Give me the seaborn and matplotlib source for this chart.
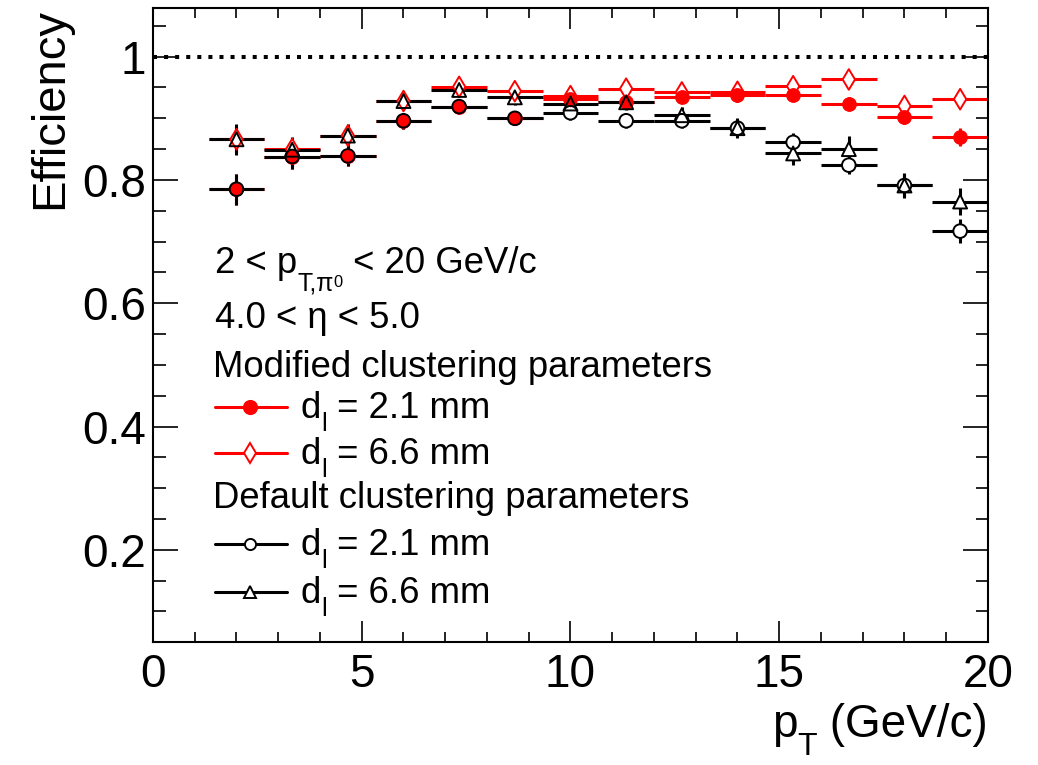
import numpy as np
import pandas as pd
import matplotlib
matplotlib.use("Agg")
import matplotlib.pyplot as plt
import seaborn as sns
from matplotlib.ticker import MultipleLocator, FixedLocator
from matplotlib.lines import Line2D

# ---- data: pT bins (GeV/c) and reconstruction efficiencies ----
pt_centers = [2.0, 3.333, 4.667, 6.0, 7.333, 8.667, 10.0, 11.333,
              12.667, 14.0, 15.333, 16.667, 18.0, 19.333]
pt_halfwidth = 2.0 / 3.0

# modified clustering parameters
mod_d21 = [0.785, 0.838, 0.839, 0.896, 0.919, 0.900, 0.931, 0.926,
           0.934, 0.938, 0.938, 0.924, 0.902, 0.870]
mod_d21_err = [0.025, 0.020, 0.017, 0.013, 0.011, 0.011, 0.010, 0.010,
               0.009, 0.009, 0.009, 0.010, 0.012, 0.015]
mod_d66 = [0.866, 0.850, 0.872, 0.928, 0.951, 0.944, 0.936, 0.948,
           0.942, 0.943, 0.952, 0.963, 0.920, 0.931]
mod_d66_err = [0.020, 0.015, 0.013, 0.010, 0.009, 0.009, 0.008, 0.008,
               0.008, 0.008, 0.008, 0.008, 0.010, 0.011]

# default clustering parameters
def_d21 = [0.785, 0.838, 0.839, 0.896, 0.919, 0.900, 0.909, 0.896,
           0.896, 0.884, 0.861, 0.824, 0.791, 0.717]
def_d21_err = [0.025, 0.020, 0.017, 0.013, 0.011, 0.011, 0.011, 0.011,
               0.011, 0.014, 0.015, 0.015, 0.018, 0.020]
def_d66 = [0.866, 0.849, 0.872, 0.928, 0.946, 0.934, 0.924, 0.926,
           0.905, 0.884, 0.843, 0.850, 0.791, 0.765]
def_d66_err = [0.025, 0.021, 0.018, 0.014, 0.012, 0.012, 0.012, 0.012,
               0.013, 0.016, 0.019, 0.021, 0.021, 0.022]

# ---- style ----
sns.set_theme(style="ticks")
plt.rcParams["font.family"] = ["Liberation Sans", "DejaVu Sans"]
for key in ("text.color", "axes.labelcolor", "xtick.color", "ytick.color",
            "axes.edgecolor"):
    plt.rcParams[key] = "black"

RED = "#ff0000"
BLACK = "#000000"
LW = 2.2
W, H = 1038, 765

fig = plt.figure(figsize=(W / 100, H / 100), dpi=100)
ax = fig.add_axes([0.1474, 0.1612, 0.8044, 0.8280])
renderer = fig.canvas.get_renderer()

series = [
    # values, errors, marker, marker size (pt), colour, filled
    (mod_d21, mod_d21_err, "o", 9.8, RED, True),
    (mod_d66, mod_d66_err, "d", 10.5, RED, False),
    (def_d21, def_d21_err, "o", 9.8, BLACK, False),
    (def_d66, def_d66_err, "^", 10.0, BLACK, False),
]

# error bars (bin width horizontally, uncertainty vertically)
for vals, errs, mk, ms, col, filled in series:
    ax.errorbar(pt_centers, vals, xerr=pt_halfwidth, yerr=errs, fmt="none",
                ecolor=col, elinewidth=LW, capsize=0, zorder=2)

# white interiors for open markers so the bars do not run through them
for vals, errs, mk, ms, col, filled in series:
    if not filled:
        sns.scatterplot(x=pt_centers, y=vals, marker=mk, s=ms ** 2,
                        color="white", edgecolor="none", linewidth=0,
                        ax=ax, zorder=3, legend=False)

# filled markers
for vals, errs, mk, ms, col, filled in series:
    if filled:
        sns.scatterplot(x=pt_centers, y=vals, marker=mk, s=ms ** 2,
                        color=col, edgecolor=col, linewidth=0.8,
                        ax=ax, zorder=4, legend=False)

# open marker outlines
for vals, errs, mk, ms, col, filled in series:
    if not filled:
        sns.scatterplot(x=pt_centers, y=vals, marker=mk, s=ms ** 2,
                        facecolors="none", edgecolor=col, linewidth=1.4,
                        ax=ax, zorder=5, legend=False)

# unit-efficiency reference line
ax.axhline(1.0, color=BLACK, lw=2.9, linestyle=(0, (1.0, 1.75)), zorder=1)

# ---- axes ----
ax.set_xlim(0, 20)
ax.set_ylim(0.051, 1.0785)
ax.xaxis.set_major_locator(MultipleLocator(5))
ax.xaxis.set_minor_locator(MultipleLocator(1))
ax.yaxis.set_major_locator(FixedLocator([0.2, 0.4, 0.6, 0.8, 1.0]))
ax.yaxis.set_minor_locator(MultipleLocator(0.05))
ax.set_yticklabels(["0.2", "0.4", "0.6", "0.8", "1"])

for sp in ax.spines.values():
    sp.set_linewidth(1.5)
    sp.set_color(BLACK)

ax.tick_params(axis="both", which="both", direction="in", top=True,
               right=True, width=1.2, colors=BLACK, labelsize=33)
ax.tick_params(axis="y", which="major", length=18, pad=5)
ax.tick_params(axis="y", which="minor", length=9)
ax.tick_params(axis="x", which="major", length=15, pad=8)
ax.tick_params(axis="x", which="minor", length=7.5)

ax.set_ylabel("Efficiency", fontsize=34, loc="top", color=BLACK)
ax.yaxis.set_label_coords(-0.097, 1.0)


# ---- text with low-set sub/superscripts, laid out piece by piece ----
def rich_text(segments, x_px, base_px, size, align="left"):
    """segments: (text, size factor, drop below baseline in px)."""
    items = []
    x = x_px
    for s, scale, dy in segments:
        t = fig.text(x / W, 1 - (base_px + dy) / H, s, fontsize=size * scale,
                     va="baseline", ha="left", color=BLACK)
        x += t.get_window_extent(renderer).width
        items.append(t)
    if align == "right":
        shift = (x_px - x) / W
        for t in items:
            px, py = t.get_position()
            t.set_position((px + shift, py))
    return items


# x-axis title
rich_text([("p", 1.0, 0), ("T", 0.7, 18), (" (GeV/c)", 1.0, 0)],
          988, 737, 33, align="right")

# ---- legend block ----
TXT = 26.3
rich_text([("2 < p", 1.0, 0), ("T,π", 0.68, 18), ("0", 0.45, 14),
           (" < 20 GeV/c", 1.0, 0)], 215, 273, TXT)
fig.text(215 / W, 1 - 328 / H, "4.0 < η < 5.0", fontsize=TXT,
         va="baseline", ha="left", color=BLACK)
fig.text(213 / W, 1 - 377 / H, "Modified clustering parameters",
         fontsize=TXT, va="baseline", ha="left", color=BLACK)
fig.text(213 / W, 1 - 508 / H, "Default clustering parameters",
         fontsize=TXT, va="baseline", ha="left", color=BLACK)

entries = [
    (418, "2.1", "o", 9.5, RED, RED),
    (464, "6.6", "d", 10.5, RED, "white"),
    (555, "2.1", "o", 8.0, BLACK, "white"),
    (603, "6.6", "^", 8.0, BLACK, "white"),
]
for base, dval, mk, ms, col, fc in entries:
    yy = 1 - (base - 11) / H
    fig.add_artist(Line2D([215 / W, 287 / W], [yy, yy], color=col, lw=LW,
                          transform=fig.transFigure, zorder=6))
    fig.add_artist(Line2D([250 / W], [yy], marker=mk, ms=ms, mfc=fc, mec=col,
                          mew=1.4, transform=fig.transFigure, zorder=7))
    rich_text([("d", 1.0, 0), ("l", 0.72, 13), (" = " + dval + " mm", 1.0, 0)],
              301, base, TXT)

fig.savefig("out.png", dpi=100)
